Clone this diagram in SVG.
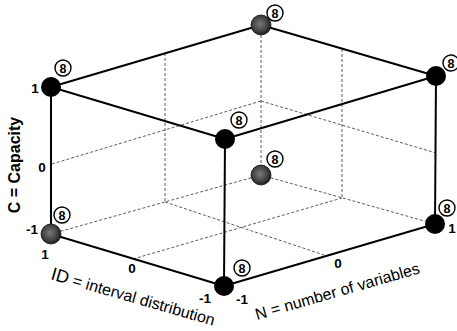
<svg xmlns="http://www.w3.org/2000/svg" width="457" height="331" viewBox="0 0 457 331">
<style>
.grid{stroke:#333;stroke-width:0.8;stroke-dasharray:3,2;fill:none}
.edge{stroke:#000;stroke-width:2;fill:none}
.ball{fill:#000}
.gball{fill:url(#gg);stroke:#111;stroke-width:0.8}
.lab circle{fill:#fff;stroke:#000;stroke-width:1.4}
.lab text{font-family:"Liberation Sans",Arial,sans-serif;font-weight:bold;font-size:12.5px;text-anchor:middle}
.tick{font-family:"Liberation Sans",Arial,sans-serif;font-weight:bold;font-size:13.5px;text-anchor:middle}
.axis{font-family:"Liberation Sans",Arial,sans-serif;font-size:16px}
</style>
<defs>
<radialGradient id="gg" cx="0.45" cy="0.45" r="0.6">
<stop offset="0" stop-color="#7a7a7a"/>
<stop offset="0.6" stop-color="#444"/>
<stop offset="1" stop-color="#111"/>
</radialGradient>
</defs>
<rect width="457" height="331" fill="#fff"/>
<g id="grid">
<line class="grid" x1="261" y1="25" x2="261" y2="175"/>
<line class="grid" x1="51" y1="234" x2="261" y2="175"/>
<line class="grid" x1="261" y1="175" x2="435" y2="224"/>
<line class="grid" x1="52" y1="164" x2="261" y2="101"/>
<line class="grid" x1="261" y1="101" x2="436" y2="153"/>
<line class="grid" x1="165" y1="53" x2="165" y2="202"/>
<line class="grid" x1="342" y1="49" x2="342" y2="198"/>
<line class="grid" x1="165" y1="202" x2="327" y2="256"/>
<line class="grid" x1="133" y1="259" x2="342" y2="198"/>
</g>
<g id="connectors">
<line class="edge" x1="51" y1="87" x2="261" y2="25"/>
<line class="edge" x1="261" y1="25" x2="436" y2="76"/>
<line class="edge" x1="51" y1="87" x2="225" y2="139"/>
<line class="edge" x1="225" y1="139" x2="436" y2="76"/>
<line class="edge" x1="51" y1="87" x2="51" y2="234"/>
<line class="edge" x1="225" y1="139" x2="224" y2="286"/>
<line class="edge" x1="436" y1="76" x2="435" y2="224"/>
<line class="edge" x1="51" y1="234" x2="224" y2="286"/>
<line class="edge" x1="224" y1="286" x2="435" y2="224"/>
</g>
<g id="node-top-left">
<circle class="ball" cx="51" cy="87" r="10"/>
<g class="lab"><circle cx="63" cy="68" r="8"/><text x="63" y="72.5">8</text></g>
</g>
<g id="node-top-back">
<circle class="gball" cx="261" cy="25" r="10"/>
<g class="lab"><circle cx="275" cy="13" r="8"/><text x="275" y="17.5">8</text></g>
</g>
<g id="node-top-right">
<circle class="ball" cx="436" cy="76" r="10"/>
<g class="lab"><circle cx="451" cy="63" r="8"/><text x="451" y="67.5">8</text></g>
</g>
<g id="node-top-front">
<circle class="ball" cx="225" cy="139" r="10"/>
<g class="lab"><circle cx="239" cy="120" r="8"/><text x="239" y="124.5">8</text></g>
</g>
<g id="node-bottom-back">
<circle class="gball" cx="261" cy="175" r="10"/>
<g class="lab"><circle cx="275" cy="159" r="8"/><text x="275" y="163.5">8</text></g>
</g>
<g id="node-bottom-left">
<circle class="gball" cx="51" cy="234" r="10"/>
<g class="lab"><circle cx="62" cy="215" r="8"/><text x="62" y="219.5">8</text></g>
</g>
<g id="node-bottom-front">
<circle class="ball" cx="224" cy="286" r="10"/>
<g class="lab"><circle cx="242" cy="268" r="8"/><text x="242" y="272.5">8</text></g>
</g>
<g id="node-bottom-right">
<circle class="ball" cx="435" cy="224" r="10"/>
<g class="lab"><circle cx="447" cy="208" r="8"/><text x="447" y="212.5">8</text></g>
</g>
<g id="ticks">
<text class="tick" x="35" y="93">1</text>
<text class="tick" x="42" y="172">0</text>
<text class="tick" x="32" y="234">-1</text>
<text class="tick" x="45" y="259">1</text>
<text class="tick" x="132" y="273">0</text>
<text class="tick" x="205" y="303">-1</text>
<text class="tick" x="242" y="304">-1</text>
<text class="tick" x="338" y="268">0</text>
<text class="tick" x="452" y="233">1</text>
</g>
<g id="axis-labels">
<text class="axis" font-weight="bold" font-size="13.5" transform="translate(20,165) rotate(-90)" text-anchor="middle">C = Capacity</text>
<text class="axis" transform="translate(50,279) rotate(16)"><tspan font-size="18">ID</tspan> = interval distribution</text>
<text class="axis" transform="translate(257,320) rotate(-16)">N = number of variables</text>
</g>
</svg>
